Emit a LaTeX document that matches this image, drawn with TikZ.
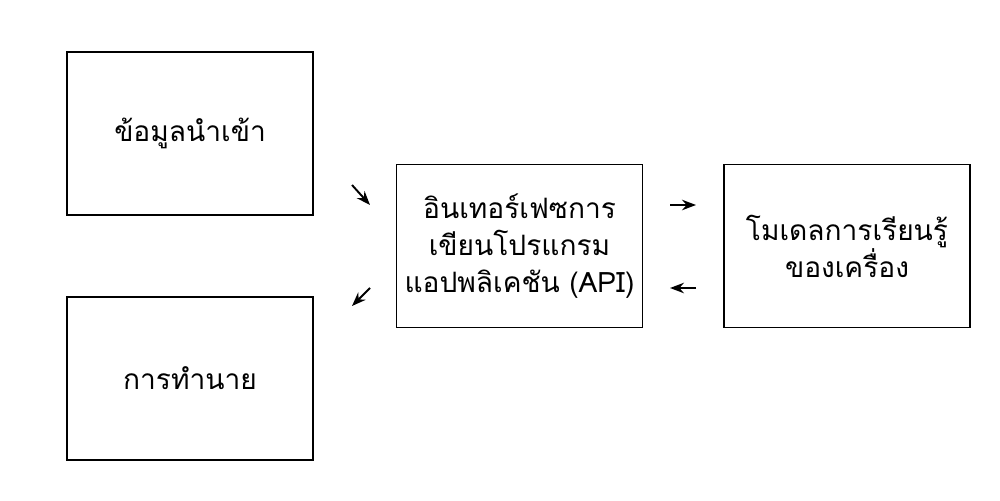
\documentclass[tikz,border=0pt]{standalone}
\usepackage{fontspec}
\newfontfamily\thaifont[Script=Thai]{Loma}
\usetikzlibrary{arrows.meta}
\tikzset{>=Stealth}
\tikzset{box/.style={draw, thick, minimum width=4.92cm, minimum height=3.26cm, align=center,
    font=\thaifont\fontsize{16}{21}\selectfont}}
\tikzset{flow/.style={->, line width=1.1pt}}
\begin{document}
\begin{tikzpicture}[x=0.02cm,y=-0.02cm,thick]
    \useasboundingbox (0,0) rectangle (1000,500);
    \node[box] (input) at (190,133.5) {ข้อมูลนำเข้า};
    \node[box] (pred) at (190,378.5) {การทำนาย};
    \node[box] (api) at (519.5,246) {อินเทอร์เฟซการ\\เขียนโปรแกรม\\แอปพลิเคชัน (API)};
    \node[box] (ml) at (847,246) {โมเดลการเรียนรู้\\ของเครื่อง};
    \coordinate (a1) at (352,185); \coordinate (a2) at (370,205);
    \coordinate (b1) at (370,288); \coordinate (b2) at (352,306);
    \coordinate (c1) at (670,205); \coordinate (c2) at (696,205);
    \coordinate (d1) at (696,288); \coordinate (d2) at (670,288);
    \draw[flow] (a1) -- (a2);
    \draw[flow] (b1) -- (b2);
    \draw[flow] (c1) -- (c2);
    \draw[flow] (d1) -- (d2);
\end{tikzpicture}
\end{document}
